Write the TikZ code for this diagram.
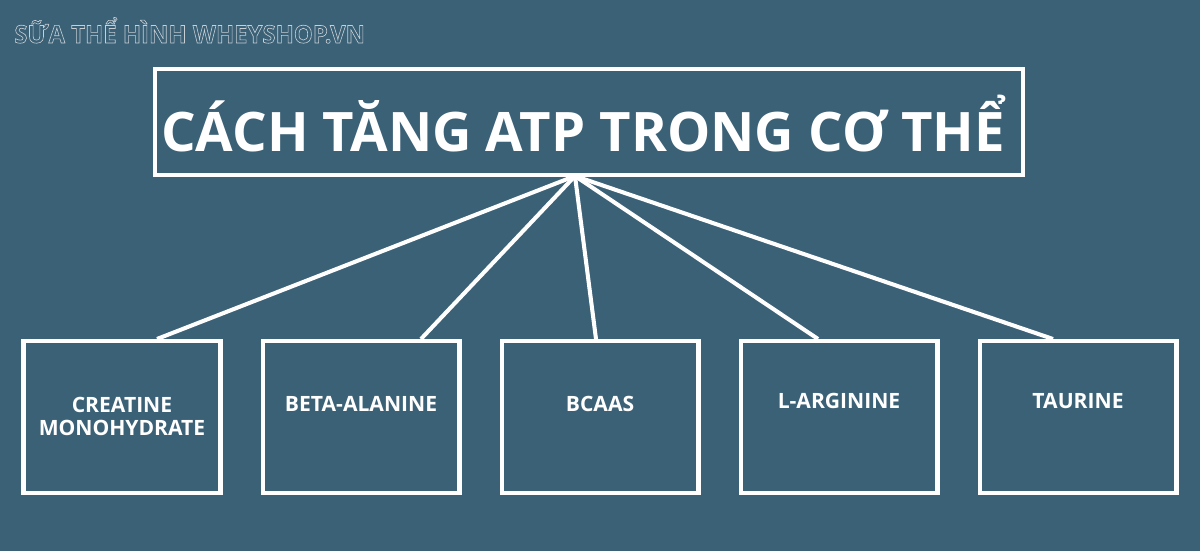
\documentclass[tikz,border=0pt]{standalone}
\usepackage{fontspec}
\setmainfont{Open Sans}
\usepackage{tikz}
\usetikzlibrary{positioning,calc}

\definecolor{bgblue}{RGB}{59,97,119}
\definecolor{markgray}{RGB}{200,208,214}

\tikzset{
  itembox/.style={draw=white,line width=2.3pt,minimum width=3.94cm,minimum height=3.04cm,inner sep=0pt},
  itemtext/.style={text=white,font=\bfseries\fontsize{12}{13}\selectfont,align=center,anchor=base},
  link/.style={draw=white,line width=2.3pt},
}

\newcommand{\outlinetext}[1]{\special{pdf:literal direct 1 Tr 0.35 w}#1\special{pdf:literal direct 0 Tr}}

\begin{document}
\begin{tikzpicture}[x=0.02cm,y=-0.02cm]
      \fill[bgblue] (0,0) rectangle (1200,551);
      \useasboundingbox (0,0) rectangle (1200,551);

      % watermark
      \node[anchor=base west,inner sep=0pt,text=markgray,font=\bfseries\fontsize{14}{14}\selectfont,xscale=0.97,transform shape] (mark) at (14,43) {\outlinetext{SỮA THỂ HÌNH WHEYSHOP.VN}};

      % title
      \node[draw=white,line width=2.3pt,minimum width=17.36cm,minimum height=2.12cm,inner sep=0pt] (title) at (589,122) {};
      \node[anchor=base,text=white,font=\bfseries\fontsize{31}{33}\selectfont] (titletext) at (583,151) {CÁCH TĂNG ATP TRONG CƠ THỂ};

      % boxes
      \node[itembox] (creatine) at (122,417) {};
      \node[itembox] (beta) at (361,417) {};
      \node[itembox] (bcaa) at (600,417) {};
      \node[itembox] (arginine) at (839,417) {};
      \node[itembox] (taurine) at (1078,417) {};

      \node[itemtext] (t1) at (122,435) {CREATINE\\MONOHYDRATE};
      \node[itemtext] (t2) at (361,411) {BETA-ALANINE};
      \node[itemtext] (t3) at (600,411) {BCAAS};
      \node[itemtext] (t4) at (839,408) {L-ARGININE};
      \node[itemtext] (t5) at (1078,408) {TAURINE};

      % links
      \coordinate (hub) at (575,176);
      \draw[link] (hub) -- ($(creatine.north)+(35,0)$);
      \draw[link] (hub) -- ($(beta.north)+(60,0)$);
      \draw[link] (hub) -- ($(bcaa.north)+(-4,0)$);
      \draw[link] (hub) -- ($(arginine.north)+(-21,0)$);
      \draw[link] (hub) -- ($(taurine.north)+(-25,0)$);
\end{tikzpicture}
\end{document}
